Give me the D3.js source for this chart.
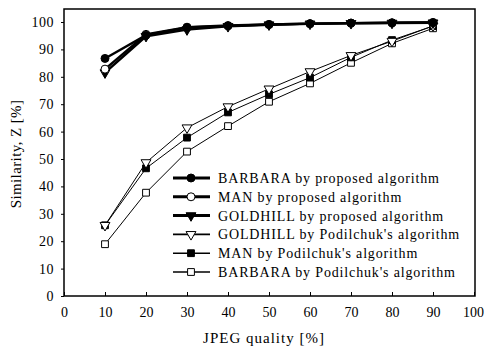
<!DOCTYPE html>
<html>
<head>
<meta charset="utf-8">
<script src="https://cdn.jsdelivr.net/npm/d3@7"></script>
<style>
	body { margin: 0; background: #fff; }
	text { font-family: "Liberation Serif", "DejaVu Serif", serif; fill: #000; }
</style>
</head>
<body>
<svg id="chart"></svg>
<script>

var quality = [10, 20, 30, 40, 50, 60, 70, 80, 90];

var barbaraProposed = [86.7, 95.2, 98.0, 98.6, 99.1, 99.4, 99.6, 99.7, 99.8];
var manProposed = [82.8, 95.5, 98.1, 98.7, 99.1, 99.4, 99.6, 99.7, 99.8];
var goldhillProposed = [81.5, 94.8, 97.2, 98.4, 99.0, 99.3, 99.5, 99.6, 99.7];
var goldhillPodilchuk = [25.8, 48.7, 61.4, 69.1, 75.6, 81.9, 87.8, 93.0, 98.6];
var manPodilchuk = [25.8, 46.6, 57.8, 67.0, 73.6, 79.7, 87.1, 93.4, 98.5];
var barbaraPodilchuk = [18.9, 37.7, 52.7, 62.0, 70.9, 77.6, 85.1, 92.2, 97.7];

var seriesNames = [
	"BARBARA by proposed algorithm",
	"MAN by proposed algorithm",
	"GOLDHILL by proposed algorithm",
	"GOLDHILL by Podilchuk's algorithm",
	"MAN by Podilchuk's algorithm",
	"BARBARA by Podilchuk's algorithm"
];

var xTicks = [0, 10, 20, 30, 40, 50, 60, 70, 80, 90, 100];
var yTicks = [0, 10, 20, 30, 40, 50, 60, 70, 80, 90, 100];

var width = 484, height = 348;
var margin = {left: 64, right: 10, top: 9, bottom: 52};

var svg = d3.select("#chart")
	.attr("width", width)
	.attr("height", height);

var x = d3.scaleLinear().domain([0, 100]).range([margin.left, 474]);
var y = d3.scaleLinear().domain([0, 100]).range([296, 22]);

// frame
svg.append("rect")
	.attr("x", x(0))
	.attr("y", margin.top)
	.attr("width", x(100) - x(0) + 1)
	.attr("height", y(0) - margin.top)
	.attr("fill", "none")
	.attr("stroke", "#000")
	.attr("stroke-width", 1.5);

var xAxis = svg.append("g")
	.attr("transform", "translate(0," + y(0) + ")")
	.call(d3.axisBottom(x).tickValues(xTicks).tickSizeInner(-4).tickSizeOuter(0).tickPadding(11));

var yAxis = svg.append("g")
	.attr("transform", "translate(" + x(0) + ",0)")
	.call(d3.axisLeft(y).tickValues(yTicks).tickSizeInner(3).tickSizeOuter(0).tickPadding(7));

[xAxis, yAxis].forEach(function(g) {
	g.select(".domain").remove();
	g.selectAll("line").attr("stroke", "#000").attr("stroke-width", 1);
	g.selectAll("text").style("font-size", "14px")
		.style("font-family", "'Liberation Serif', serif");
});
yAxis.selectAll("text").style("letter-spacing", "0.5px");
// keep the last label inside the window
xAxis.selectAll("text").filter(function(d) { return d === 100; }).attr("dx", "-1");

svg.append("text")
	.attr("x", 264)
	.attr("y", 343)
	.attr("text-anchor", "middle")
	.style("font-size", "15px")
	.style("letter-spacing", "1px")
	.text("JPEG quality [%]");

svg.append("text")
	.attr("transform", "translate(21," + 154 + ") rotate(-90)")
	.attr("text-anchor", "middle")
	.style("font-size", "15px")
	.style("letter-spacing", "0.4px")
	.text("Similarity, Z [%]");

var series = [
	{values: barbaraProposed, symbol: d3.symbolCircle, filled: true, w: 2.4, size: 50},
	{values: manProposed, symbol: d3.symbolCircle, filled: false, w: 2.4, size: 50},
	{values: goldhillProposed, symbol: "tri", filled: true, w: 2.4, size: 42},
	{values: goldhillPodilchuk, symbol: "tri", filled: false, w: 1, size: 42},
	{values: manPodilchuk, symbol: d3.symbolSquare, filled: true, w: 1, size: 46},
	{values: barbaraPodilchuk, symbol: d3.symbolSquare, filled: false, w: 1, size: 46}
];

function symbolPath(s) {
	if (s.symbol === "tri") {
		return d3.symbol().type(d3.symbolTriangle).size(s.size)();
	}
	return d3.symbol().type(s.symbol).size(s.size)();
}

var line = d3.line()
	.x(function(d, i) { return x(quality[i]); })
	.y(function(d) { return y(d); });

// draw lines first, Podilchuk first so proposed on top
series.slice().reverse().forEach(function(s) {
	svg.append("path")
		.datum(s.values)
		.attr("d", line)
		.attr("fill", "none")
		.attr("stroke", "#000")
		.attr("stroke-width", s.w);
});

series.slice().reverse().forEach(function(s) {
	svg.append("g").selectAll("path")
		.data(s.values)
		.join("path")
		.attr("d", symbolPath(s))
		.attr("transform", function(d, i) {
			var r = s.symbol === "tri" ? " rotate(180)" : "";
			return "translate(" + x(quality[i]) + "," + y(d) + ")" + r;
		})
		.attr("fill", s.filled ? "#000" : "#fff")
		.attr("stroke", "#000")
		.attr("stroke-width", 1);
});

// legend
var legend = svg.append("g");
var rowY = d3.scaleLinear().domain([0, 5]).range([178, 272]);

series.forEach(function(s, i) {
	var yy = rowY(i);
	legend.append("line")
		.attr("x1", 173).attr("x2", 210)
		.attr("y1", yy).attr("y2", yy)
		.attr("stroke", "#000")
		.attr("stroke-width", s.w + 0.6);
	legend.append("path")
		.attr("d", symbolPath(s))
		.attr("transform", "translate(191," + yy + ")" + (s.symbol === "tri" ? " rotate(180)" : ""))
		.attr("fill", s.filled ? "#000" : "#fff")
		.attr("stroke", "#000")
		.attr("stroke-width", 1);
	legend.append("text")
		.attr("x", 218)
		.attr("y", yy + 5)
		.style("font-size", "14px")
		.style("letter-spacing", "0.85px")
		.text(seriesNames[i]);
});

</script>
</body>
</html>
